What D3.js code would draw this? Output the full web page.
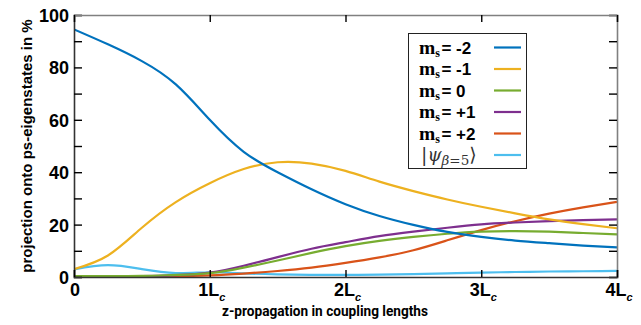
<!DOCTYPE html>
<html>
<head>
<meta charset="UTF-8">
<script src="https://d3js.org/d3.v7.min.js"></script>
<style>
  body { margin: 0; background: #fff; }
  svg { display: block; }
  .tick text { font-family: "Liberation Sans", Arial, sans-serif; font-weight: bold; font-size: 18px; fill: #000; }
</style>
</head>
<body>
<svg width="641" height="325"></svg>
<script>
// propagation distance in coupling lengths L_c
const zL = [0, 0.25, 0.5, 0.75, 1, 1.25, 1.5, 1.75, 2, 2.25, 2.5, 2.75, 3, 3.25, 3.5, 3.75, 4];

// projections in %
const msMinus2 = [94.5, 88.8, 82.4, 73.5, 60.0, 47.8, 40.0, 33.5, 27.8, 23.3, 19.9, 17.2, 15.3, 13.9, 12.9, 12.0, 11.3];
const msMinus1 = [3.0, 8.2, 18.8, 28.6, 35.8, 41.2, 43.8, 43.3, 40.5, 36.4, 32.8, 29.6, 26.8, 24.3, 22.0, 20.2, 18.6];
const msZero   = [0.3, 0.3, 0.4, 0.8, 1.5, 3.6, 6.3, 9.2, 11.8, 13.8, 15.3, 16.5, 17.3, 17.5, 17.3, 16.8, 16.3];
const msPlus1  = [0.2, 0.2, 0.3, 0.7, 1.7, 4.3, 7.6, 10.8, 13.3, 15.6, 17.3, 18.8, 20.1, 20.8, 21.3, 21.7, 22.0];
const msPlus2  = [0.0, 0.0, 0.1, 0.3, 0.6, 1.3, 2.3, 3.6, 5.4, 7.5, 10.2, 14.0, 17.9, 21.3, 24.2, 26.6, 28.7];
const psiBeta5 = [2.9, 4.5, 3.0, 1.5, 1.8, 1.4, 1.0, 0.8, 0.8, 0.9, 1.1, 1.4, 1.7, 1.9, 2.1, 2.2, 2.3];

const legendMs = ["-2", "-1", "0", "+1", "+2"];
const colors = ["#0072BD", "#EDB120", "#77AC30", "#7E2F8E", "#D95319", "#4DBEEE"];
const seriesValues = [msMinus2, msMinus1, msZero, msPlus1, msPlus2, psiBeta5];

const xTicks = [0, 1, 2, 3, 4];
const yTicks = d3.range(0, 101, 10);

const mLeft = 74, mRight = 617, mTop = 15, mBottom = 277;

const svg = d3.select("svg");

let x = d3.scaleLinear().domain([0, 4]).range([mLeft, mRight]);
let y = d3.scaleLinear().domain([0, 100]).range([mBottom, mTop]);

svg.append("defs").append("clipPath").attr("id", "plot")
  .append("rect").attr("x", mLeft).attr("y", mTop)
  .attr("width", mRight - mLeft).attr("height", mBottom - mTop);

// curves
let line = d3.line()
  .x((d, i) => x(zL[i]))
  .y(d => y(d))
  .curve(d3.curveNatural);

// draw light blue first so the others lie over it like in the figure
let order = [5, 4, 3, 2, 1, 0];
svg.append("g").attr("clip-path", "url(#plot)")
  .selectAll("path")
  .data(order)
  .enter()
  .append("path")
  .attr("d", i => line(seriesValues[i]))
  .attr("fill", "none")
  .attr("stroke", i => colors[i])
  .attr("stroke-width", 2.2);

// axes with inward ticks
let yAxis = svg.append("g").attr("transform", "translate(" + mLeft + ",0)")
  .call(d3.axisLeft(y).tickValues(yTicks).tickSize(-8).tickPadding(6)
    .tickFormat(d => d % 20 === 0 ? d : ""));
let yAxisR = svg.append("g").attr("transform", "translate(" + mRight + ",0)")
  .call(d3.axisRight(y).tickValues(yTicks).tickSize(-8).tickFormat(""));
let xAxis = svg.append("g").attr("transform", "translate(0," + mBottom + ")")
  .call(d3.axisBottom(x).tickValues(xTicks).tickSize(-7).tickFormat(""));
let xAxisT = svg.append("g").attr("transform", "translate(0," + mTop + ")")
  .call(d3.axisTop(x).tickValues(xTicks).tickSize(-7).tickFormat(""));

[yAxis, xAxis].forEach(a => {
  a.select(".domain").attr("stroke", "#333").attr("stroke-width", 1.6);
  a.selectAll(".tick line").attr("stroke", "#000").attr("stroke-width", 1.4);
});
[yAxisR, xAxisT].forEach(a => {
  a.select(".domain").attr("stroke", "#808080").attr("stroke-width", 1.6);
  a.selectAll(".tick line").attr("stroke", "#000").attr("stroke-width", 1.4);
});
yAxis.selectAll(".tick text").attr("x", -5).attr("dy", "0.36em");

// x tick labels with subscript c
let xl = svg.append("g")
  .selectAll("text")
  .data(xTicks)
  .enter()
  .append("text")
  .attr("x", d => x(d) + (d === 0 ? 1 : 2))
  .attr("y", 296)
  .attr("text-anchor", "middle")
  .style("font-family", "Liberation Sans, Arial, sans-serif")
  .style("font-weight", "bold")
  .style("font-size", "18px");
xl.append("tspan").text(d => d === 0 ? "0" : d + "L");
xl.filter(d => d !== 0).append("tspan")
  .attr("dy", 5)
  .style("font-style", "italic")
  .style("font-size", "11px")
  .text("c");

// axis titles
svg.append("text")
  .attr("x", 325)
  .attr("y", 316)
  .attr("text-anchor", "middle")
  .attr("textLength", 206)
  .attr("lengthAdjust", "spacingAndGlyphs")
  .style("font-family", "Liberation Sans Narrow, Roboto, sans-serif")
  .style("font-weight", "bold")
  .style("font-size", "15.5px")
  .text("z-propagation in coupling lengths");

svg.append("text")
  .attr("transform", "translate(31.5,146) rotate(-90)")
  .attr("text-anchor", "middle")
  .style("font-family", "Liberation Sans, Arial, sans-serif")
  .style("font-weight", "bold")
  .style("font-size", "15px")
  .text("projection onto ps-eigenstates in %");

// legend
let lg = svg.append("g");
lg.append("rect")
  .attr("x", 408.5).attr("y", 33.5).attr("width", 118).attr("height", 135)
  .attr("fill", "#fff").attr("stroke", "#222").attr("stroke-width", 1);

let rowY = i => 47.5 + i * 21.5;

lg.selectAll("line")
  .data(colors)
  .enter()
  .append("line")
  .attr("x1", 494).attr("x2", 521)
  .attr("y1", (d, i) => rowY(i)).attr("y2", (d, i) => rowY(i))
  .attr("stroke", d => d)
  .attr("stroke-width", 2.2);

legendMs.forEach((v, i) => {
  let t = lg.append("text").attr("x", 419).attr("y", rowY(i) + 6);
  t.append("tspan")
    .style("font-family", "Liberation Serif, Times New Roman, serif")
    .style("font-weight", "bold")
    .style("font-size", "19.5px")
    .text("m");
  t.append("tspan")
    .attr("dy", 3)
    .style("font-family", "Liberation Serif, Times New Roman, serif")
    .style("font-weight", "bold")
    .style("font-size", "12px")
    .text("s");
  t.append("tspan")
    .attr("dy", -3)
    .attr("dx", 1.5)
    .style("font-family", "Liberation Sans, Arial, sans-serif")
    .style("font-weight", "bold")
    .style("font-size", "17px")
    .text("= " + v);
});

let p = lg.append("text").attr("x", 421).attr("y", rowY(5) + 6)
  .style("font-family", "DejaVu Serif, Liberation Serif, serif")
  .style("fill", "#333");
p.append("tspan").style("font-size", "19px").text("|");
p.append("tspan").style("font-size", "18px").style("font-style", "italic").text("ψ");
p.append("tspan").attr("dy", 4).style("font-size", "13.5px").style("font-style", "italic").text("β");
p.append("tspan").style("font-size", "13.5px").text("=5");
p.append("tspan").attr("dy", -4).style("font-size", "19px").text("⟩");
</script>
</body>
</html>
